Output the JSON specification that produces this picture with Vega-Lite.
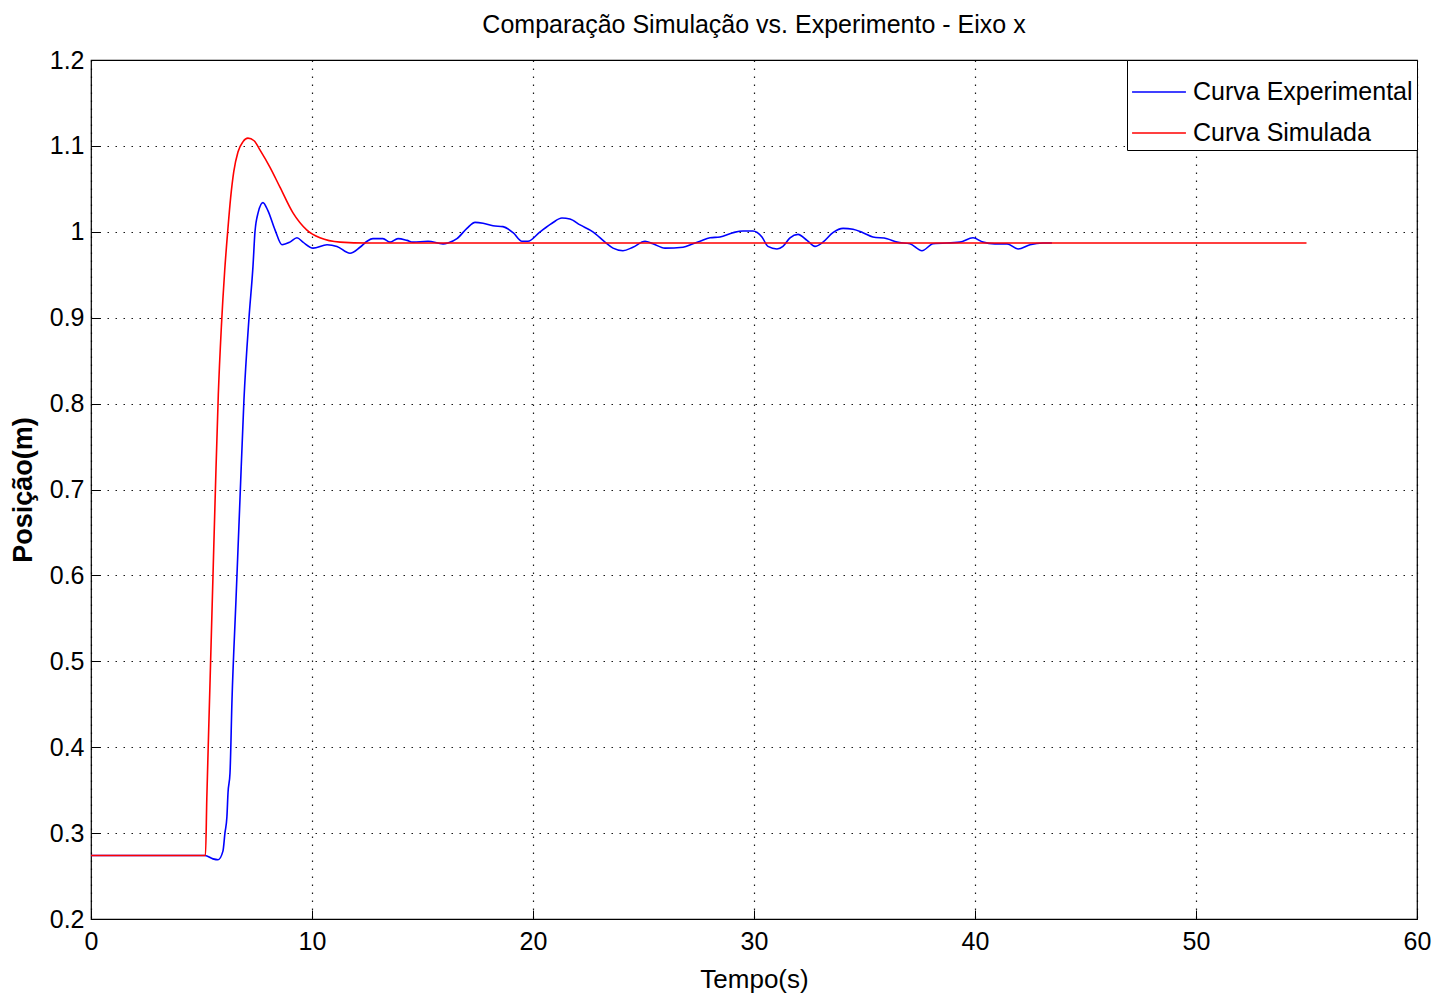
{
  "$schema": "https://vega.github.io/schema/vega-lite/v6.json",
  "width": 1326,
  "height": 859,
  "autosize": {"type": "none"},
  "padding": {"left": 91, "top": 60, "right": 26, "bottom": 80},
  "background": "white",
  "title": {
    "text": "Comparação Simulação vs. Experimento - Eixo x",
    "font": "Liberation Sans",
    "fontSize": 25,
    "fontWeight": "normal",
    "color": "black",
    "anchor": "middle",
    "offset": 10
  },
  "config": {
    "view": {"stroke": "black", "strokeWidth": 1.2},
    "axis": {
      "domain": false,
      "grid": true,
      "gridColor": "black",
      "gridDash": [1.5, 6.5],
      "gridWidth": 1.2,
      "gridOpacity": 0.9,
      "ticks": true,
      "tickColor": "black",
      "tickSize": -9,
      "labelFlush": false,
      "labelFont": "Liberation Sans",
      "labelFontSize": 25,
      "labelColor": "black",
      "titleFont": "Liberation Sans",
      "titleFontSize": 26,
      "titleFontWeight": "normal",
      "titleColor": "black"
    }
  },
  "data": {
    "values": [
      {"t": 0, "y": 0.274, "serie": "Curva Experimental"},
      {"t": 5.16, "y": 0.274, "serie": "Curva Experimental"},
      {"t": 5.52, "y": 0.270, "serie": "Curva Experimental"},
      {"t": 5.75, "y": 0.269, "serie": "Curva Experimental"},
      {"t": 5.97, "y": 0.279, "serie": "Curva Experimental"},
      {"t": 6.06, "y": 0.300, "serie": "Curva Experimental"},
      {"t": 6.15, "y": 0.319, "serie": "Curva Experimental"},
      {"t": 6.20, "y": 0.347, "serie": "Curva Experimental"},
      {"t": 6.29, "y": 0.370, "serie": "Curva Experimental"},
      {"t": 6.38, "y": 0.455, "serie": "Curva Experimental"},
      {"t": 6.56, "y": 0.571, "serie": "Curva Experimental"},
      {"t": 6.74, "y": 0.688, "serie": "Curva Experimental"},
      {"t": 6.92, "y": 0.804, "serie": "Curva Experimental"},
      {"t": 7.15, "y": 0.900, "serie": "Curva Experimental"},
      {"t": 7.33, "y": 0.960, "serie": "Curva Experimental"},
      {"t": 7.42, "y": 1.000, "serie": "Curva Experimental"},
      {"t": 7.56, "y": 1.022, "serie": "Curva Experimental"},
      {"t": 7.78, "y": 1.034, "serie": "Curva Experimental"},
      {"t": 8.00, "y": 1.025, "serie": "Curva Experimental"},
      {"t": 8.33, "y": 1.002, "serie": "Curva Experimental"},
      {"t": 8.64, "y": 0.985, "serie": "Curva Experimental"},
      {"t": 9.00, "y": 0.988, "serie": "Curva Experimental"},
      {"t": 9.32, "y": 0.993, "serie": "Curva Experimental"},
      {"t": 9.59, "y": 0.988, "serie": "Curva Experimental"},
      {"t": 10.05, "y": 0.981, "serie": "Curva Experimental"},
      {"t": 10.68, "y": 0.985, "serie": "Curva Experimental"},
      {"t": 11.13, "y": 0.983, "serie": "Curva Experimental"},
      {"t": 11.72, "y": 0.975, "serie": "Curva Experimental"},
      {"t": 12.17, "y": 0.982, "serie": "Curva Experimental"},
      {"t": 12.49, "y": 0.989, "serie": "Curva Experimental"},
      {"t": 12.76, "y": 0.992, "serie": "Curva Experimental"},
      {"t": 13.21, "y": 0.992, "serie": "Curva Experimental"},
      {"t": 13.53, "y": 0.988, "serie": "Curva Experimental"},
      {"t": 13.89, "y": 0.992, "serie": "Curva Experimental"},
      {"t": 14.30, "y": 0.990, "serie": "Curva Experimental"},
      {"t": 14.57, "y": 0.988, "serie": "Curva Experimental"},
      {"t": 15.25, "y": 0.989, "serie": "Curva Experimental"},
      {"t": 15.93, "y": 0.986, "serie": "Curva Experimental"},
      {"t": 16.15, "y": 0.987, "serie": "Curva Experimental"},
      {"t": 16.56, "y": 0.992, "serie": "Curva Experimental"},
      {"t": 17.01, "y": 1.004, "serie": "Curva Experimental"},
      {"t": 17.38, "y": 1.011, "serie": "Curva Experimental"},
      {"t": 17.74, "y": 1.010, "serie": "Curva Experimental"},
      {"t": 18.19, "y": 1.007, "serie": "Curva Experimental"},
      {"t": 18.64, "y": 1.006, "serie": "Curva Experimental"},
      {"t": 19.10, "y": 0.999, "serie": "Curva Experimental"},
      {"t": 19.50, "y": 0.989, "serie": "Curva Experimental"},
      {"t": 19.77, "y": 0.989, "serie": "Curva Experimental"},
      {"t": 20.32, "y": 1.000, "serie": "Curva Experimental"},
      {"t": 20.86, "y": 1.010, "serie": "Curva Experimental"},
      {"t": 21.31, "y": 1.016, "serie": "Curva Experimental"},
      {"t": 21.67, "y": 1.015, "serie": "Curva Experimental"},
      {"t": 22.13, "y": 1.008, "serie": "Curva Experimental"},
      {"t": 22.71, "y": 1.000, "serie": "Curva Experimental"},
      {"t": 23.26, "y": 0.988, "serie": "Curva Experimental"},
      {"t": 23.62, "y": 0.981, "serie": "Curva Experimental"},
      {"t": 24.07, "y": 0.978, "serie": "Curva Experimental"},
      {"t": 24.52, "y": 0.982, "serie": "Curva Experimental"},
      {"t": 25.07, "y": 0.989, "serie": "Curva Experimental"},
      {"t": 25.43, "y": 0.986, "serie": "Curva Experimental"},
      {"t": 25.97, "y": 0.981, "serie": "Curva Experimental"},
      {"t": 26.79, "y": 0.982, "serie": "Curva Experimental"},
      {"t": 27.24, "y": 0.986, "serie": "Curva Experimental"},
      {"t": 27.56, "y": 0.989, "serie": "Curva Experimental"},
      {"t": 28.01, "y": 0.993, "serie": "Curva Experimental"},
      {"t": 28.46, "y": 0.994, "serie": "Curva Experimental"},
      {"t": 29.05, "y": 0.999, "serie": "Curva Experimental"},
      {"t": 29.50, "y": 1.001, "serie": "Curva Experimental"},
      {"t": 29.95, "y": 1.001, "serie": "Curva Experimental"},
      {"t": 30.36, "y": 0.994, "serie": "Curva Experimental"},
      {"t": 30.63, "y": 0.983, "serie": "Curva Experimental"},
      {"t": 31.04, "y": 0.980, "serie": "Curva Experimental"},
      {"t": 31.31, "y": 0.983, "serie": "Curva Experimental"},
      {"t": 31.63, "y": 0.993, "serie": "Curva Experimental"},
      {"t": 31.99, "y": 0.997, "serie": "Curva Experimental"},
      {"t": 32.40, "y": 0.990, "serie": "Curva Experimental"},
      {"t": 32.76, "y": 0.983, "serie": "Curva Experimental"},
      {"t": 33.12, "y": 0.988, "serie": "Curva Experimental"},
      {"t": 33.57, "y": 0.999, "serie": "Curva Experimental"},
      {"t": 34.03, "y": 1.004, "serie": "Curva Experimental"},
      {"t": 34.48, "y": 1.003, "serie": "Curva Experimental"},
      {"t": 34.93, "y": 0.999, "serie": "Curva Experimental"},
      {"t": 35.38, "y": 0.994, "serie": "Curva Experimental"},
      {"t": 36.02, "y": 0.992, "serie": "Curva Experimental"},
      {"t": 36.47, "y": 0.988, "serie": "Curva Experimental"},
      {"t": 37.06, "y": 0.986, "serie": "Curva Experimental"},
      {"t": 37.60, "y": 0.978, "serie": "Curva Experimental"},
      {"t": 38.10, "y": 0.986, "serie": "Curva Experimental"},
      {"t": 39.32, "y": 0.988, "serie": "Curva Experimental"},
      {"t": 39.91, "y": 0.993, "serie": "Curva Experimental"},
      {"t": 40.36, "y": 0.988, "serie": "Curva Experimental"},
      {"t": 40.90, "y": 0.986, "serie": "Curva Experimental"},
      {"t": 41.45, "y": 0.986, "serie": "Curva Experimental"},
      {"t": 41.95, "y": 0.980, "serie": "Curva Experimental"},
      {"t": 42.49, "y": 0.985, "serie": "Curva Experimental"},
      {"t": 43.08, "y": 0.987, "serie": "Curva Experimental"},
      {"t": 43.48, "y": 0.987, "serie": "Curva Experimental"},
      {"t": 0, "y": 0.274, "serie": "Curva Simulada"},
      {"t": 5.18, "y": 0.274, "serie": "Curva Simulada"},
      {"t": 5.24, "y": 0.340, "serie": "Curva Simulada"},
      {"t": 5.38, "y": 0.470, "serie": "Curva Simulada"},
      {"t": 5.52, "y": 0.600, "serie": "Curva Simulada"},
      {"t": 5.64, "y": 0.710, "serie": "Curva Simulada"},
      {"t": 5.76, "y": 0.810, "serie": "Curva Simulada"},
      {"t": 5.90, "y": 0.890, "serie": "Curva Simulada"},
      {"t": 6.05, "y": 0.955, "serie": "Curva Simulada"},
      {"t": 6.20, "y": 1.005, "serie": "Curva Simulada"},
      {"t": 6.32, "y": 1.040, "serie": "Curva Simulada"},
      {"t": 6.46, "y": 1.070, "serie": "Curva Simulada"},
      {"t": 6.65, "y": 1.093, "serie": "Curva Simulada"},
      {"t": 6.88, "y": 1.105, "serie": "Curva Simulada"},
      {"t": 7.10, "y": 1.109, "serie": "Curva Simulada"},
      {"t": 7.38, "y": 1.106, "serie": "Curva Simulada"},
      {"t": 7.65, "y": 1.095, "serie": "Curva Simulada"},
      {"t": 8.10, "y": 1.075, "serie": "Curva Simulada"},
      {"t": 8.55, "y": 1.052, "serie": "Curva Simulada"},
      {"t": 9.14, "y": 1.022, "serie": "Curva Simulada"},
      {"t": 9.77, "y": 1.002, "serie": "Curva Simulada"},
      {"t": 10.36, "y": 0.993, "serie": "Curva Simulada"},
      {"t": 11.27, "y": 0.988, "serie": "Curva Simulada"},
      {"t": 12.50, "y": 0.987, "serie": "Curva Simulada"},
      {"t": 55.0, "y": 0.987, "serie": "Curva Simulada"}
    ]
  },
  "mark": {"type": "line", "strokeWidth": 1.6, "clip": true, "interpolate": "monotone"},
  "encoding": {
    "x": {
      "field": "t",
      "type": "quantitative",
      "scale": {"domain": [0, 60], "nice": false, "zero": false},
      "axis": {"values": [0, 10, 20, 30, 40, 50, 60], "title": "Tempo(s)", "labelPadding": 19, "titlePadding": 12, "format": "d"}
    },
    "y": {
      "field": "y",
      "type": "quantitative",
      "scale": {"domain": [0.2, 1.2], "nice": false, "zero": false},
      "axis": {"values": [0.2, 0.3, 0.4, 0.5, 0.6, 0.7, 0.8, 0.9, 1.0, 1.1, 1.2], "format": "~f", "title": "Posição(m)", "labelPadding": 16, "titlePadding": 12, "titleFontSize": 27, "titleFontWeight": 600}
    },
    "color": {
      "field": "serie",
      "type": "nominal",
      "scale": {"domain": ["Curva Experimental", "Curva Simulada"], "range": ["#0000ff", "#ff0000"]},
      "legend": {
        "title": null,
        "orient": "top-right",
        "offset": 0,
        "symbolType": "stroke",
        "symbolSize": 2900,
        "symbolStrokeWidth": 1.6,
        "labelFont": "Liberation Sans",
        "labelFontSize": 25,
        "labelColor": "black",
        "labelLimit": 400,
        "strokeColor": "black",
        "fillColor": "white",
        "padding": 4,
        "rowPadding": -14,
        "labelOffset": 6
      }
    }
  }
}
